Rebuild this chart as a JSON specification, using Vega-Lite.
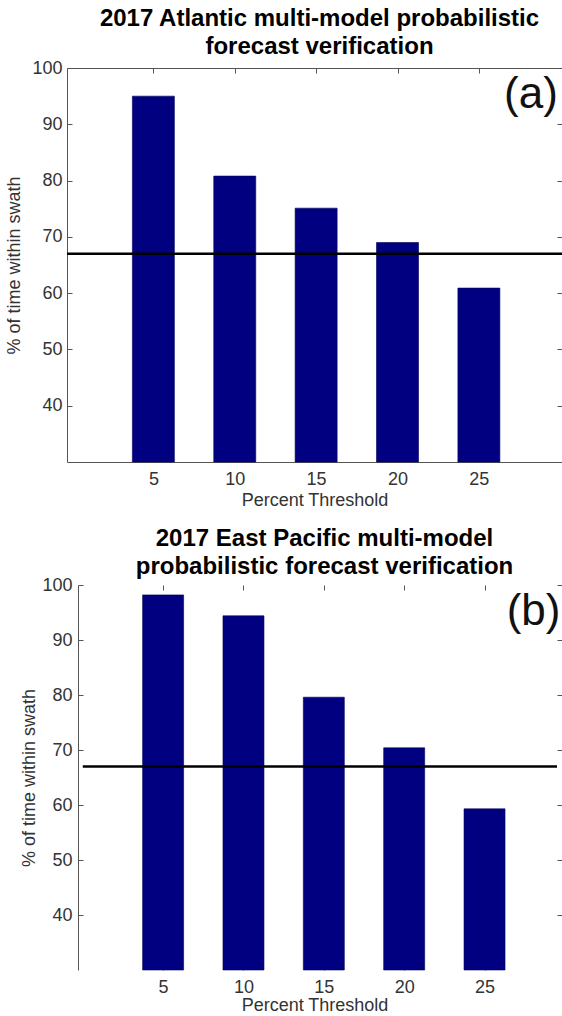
{
  "$schema": "https://vega.github.io/schema/vega-lite/v6.json",
  "background": "white",
  "padding": {"left": 5, "top": 7, "right": 0, "bottom": 0},
  "datasets": {
    "atl": [
      {"threshold": 5, "pct": 95.0},
      {"threshold": 10, "pct": 80.8},
      {"threshold": 15, "pct": 75.1},
      {"threshold": 20, "pct": 69.0},
      {"threshold": 25, "pct": 60.9}
    ],
    "epac": [
      {"threshold": 5, "pct": 98.2},
      {"threshold": 10, "pct": 94.4},
      {"threshold": 15, "pct": 79.6},
      {"threshold": 20, "pct": 70.4},
      {"threshold": 25, "pct": 59.3}
    ],
    "refline": [{"ref": 67}],
    "labA": [{"label": "(a)"}],
    "labB": [{"label": "(b)"}]
  },
  "config": {
    "view": {"stroke": null},
    "font": "Liberation Sans",
    "axis": {
      "domainColor": "#555555", "tickColor": "#555555", "domainWidth": 1, "tickWidth": 1,
      "tickSize": -5, "grid": false,
      "labelFont": "Liberation Sans", "labelFontSize": 18, "labelColor": "#333333",
      "titleFont": "Liberation Sans", "titleFontSize": 18, "titleFontWeight": "normal", "titleColor": "#333333"
    },
    "title": {"font": "Liberation Sans", "fontSize": 24, "fontWeight": "bold", "color": "#000000", "lineHeight": 28, "anchor": "middle", "frame": "group"}
  },
  "spacing": 18,
  "vconcat": [
    {
      "width": 495, "height": 394,
      "title": {"text": ["2017 Atlantic multi-model probabilistic", "forecast verification"], "dx": 5, "offset": 0},
      "layer": [
        {
          "data": {"name": "atl"},
          "mark": {"type": "bar", "size": 42, "fill": "#000080", "stroke": "#00005a", "strokeWidth": 0.6},
          "encoding": {
            "x": {"field": "threshold", "type": "quantitative", "scale": {"domain": [0, 29.8], "nice": false, "zero": false},
                  "axis": {"orient": "bottom", "values": [5, 10, 15, 20, 25], "title": "Percent Threshold", "labelPadding": 13, "titlePadding": 3}},
            "y": {"field": "pct", "type": "quantitative", "scale": {"domain": [30, 100], "nice": false, "zero": false},
                  "axis": {"orient": "left", "values": [40, 50, 60, 70, 80, 90, 100], "title": "% of time within swath", "labelPadding": 10, "titlePadding": 8}},
            "y2": {"datum": 30}
          }
        },
        {
          "data": {"name": "refline"},
          "mark": {"type": "rule", "color": "#000000", "strokeWidth": 2.5},
          "encoding": {"y": {"field": "ref", "type": "quantitative", "scale": {"domain": [30, 100], "nice": false, "zero": false}, "axis": null}}
        },
        {
          "data": {"name": "labA"},
          "mark": {"type": "text", "fontSize": 44, "color": "#111111", "font": "Liberation Sans", "align": "center", "baseline": "middle"},
          "encoding": {
            "text": {"field": "label"},
            "x": {"datum": 28.2, "type": "quantitative", "scale": {"domain": [0, 29.8], "nice": false, "zero": false},
                  "axis": {"orient": "top", "values": [5, 10, 15, 20, 25], "labels": false, "title": null}},
            "y": {"datum": 95.2, "type": "quantitative", "scale": {"domain": [30, 100], "nice": false, "zero": false},
                  "axis": {"orient": "right", "values": [40, 50, 60, 70, 80, 90, 100], "labels": false, "domain": false, "title": null}}
          }
        }
      ],
      "resolve": {"axis": {"x": "independent", "y": "independent"}}
    },
    {
      "width": 495, "height": 385,
      "title": {"text": ["2017 East Pacific multi-model", "probabilistic forecast verification"], "dx": 10, "offset": -3},
      "layer": [
        {
          "data": {"name": "epac"},
          "mark": {"type": "bar", "size": 41, "fill": "#000080", "stroke": "#00005a", "strokeWidth": 0.6},
          "encoding": {
            "x": {"field": "threshold", "type": "quantitative", "scale": {"domain": [-0.67, 29.51], "nice": false, "zero": false},
                  "axis": {"orient": "bottom", "values": [5, 10, 15, 20, 25], "domain": false, "title": "Percent Threshold", "labelPadding": 13, "titlePadding": 0}},
            "y": {"field": "pct", "type": "quantitative", "scale": {"domain": [30, 100], "nice": false, "zero": false},
                  "axis": {"orient": "left", "offset": -11, "values": [40, 50, 60, 70, 80, 90, 100], "title": "% of time within swath", "labelPadding": 11, "titlePadding": 3}},
            "y2": {"datum": 30}
          }
        },
        {
          "data": {"name": "refline"},
          "mark": {"type": "rule", "color": "#000000", "strokeWidth": 2.5},
          "encoding": {
            "y": {"field": "ref", "type": "quantitative", "scale": {"domain": [30, 100], "nice": false, "zero": false}, "axis": null},
            "x": {"datum": 0, "type": "quantitative", "scale": {"domain": [-0.67, 29.51], "nice": false, "zero": false}, "axis": null},
            "x2": {"datum": 29.51}
          }
        },
        {
          "mark": {"type": "rule", "color": "#555555", "strokeWidth": 1},
          "encoding": {
            "y": {"datum": 100, "type": "quantitative", "scale": {"domain": [30, 100], "nice": false, "zero": false}, "axis": null},
            "x": {"datum": 0, "type": "quantitative", "scale": {"domain": [-0.67, 29.51], "nice": false, "zero": false}, "axis": null},
            "x2": {"datum": 29.51}
          }
        },
        {
          "mark": {"type": "rule", "color": "#555555", "strokeWidth": 1},
          "encoding": {
            "y": {"datum": 30, "type": "quantitative", "scale": {"domain": [30, 100], "nice": false, "zero": false}, "axis": null},
            "x": {"datum": 0, "type": "quantitative", "scale": {"domain": [-0.67, 29.51], "nice": false, "zero": false}, "axis": null},
            "x2": {"datum": 29.51}
          }
        },
        {
          "data": {"name": "labB"},
          "mark": {"type": "text", "fontSize": 44, "color": "#111111", "font": "Liberation Sans", "align": "center", "baseline": "middle"},
          "encoding": {
            "text": {"field": "label"},
            "x": {"datum": 28.05, "type": "quantitative", "scale": {"domain": [-0.67, 29.51], "nice": false, "zero": false},
                  "axis": {"orient": "top", "values": [5, 10, 15, 20, 25], "domain": false, "labels": false, "title": null}},
            "y": {"datum": 95.1, "type": "quantitative", "scale": {"domain": [30, 100], "nice": false, "zero": false},
                  "axis": {"orient": "right", "values": [40, 50, 60, 70, 80, 90, 100], "labels": false, "domain": false, "title": null}}
          }
        }
      ],
      "resolve": {"axis": {"x": "independent", "y": "independent"}}
    }
  ]
}
